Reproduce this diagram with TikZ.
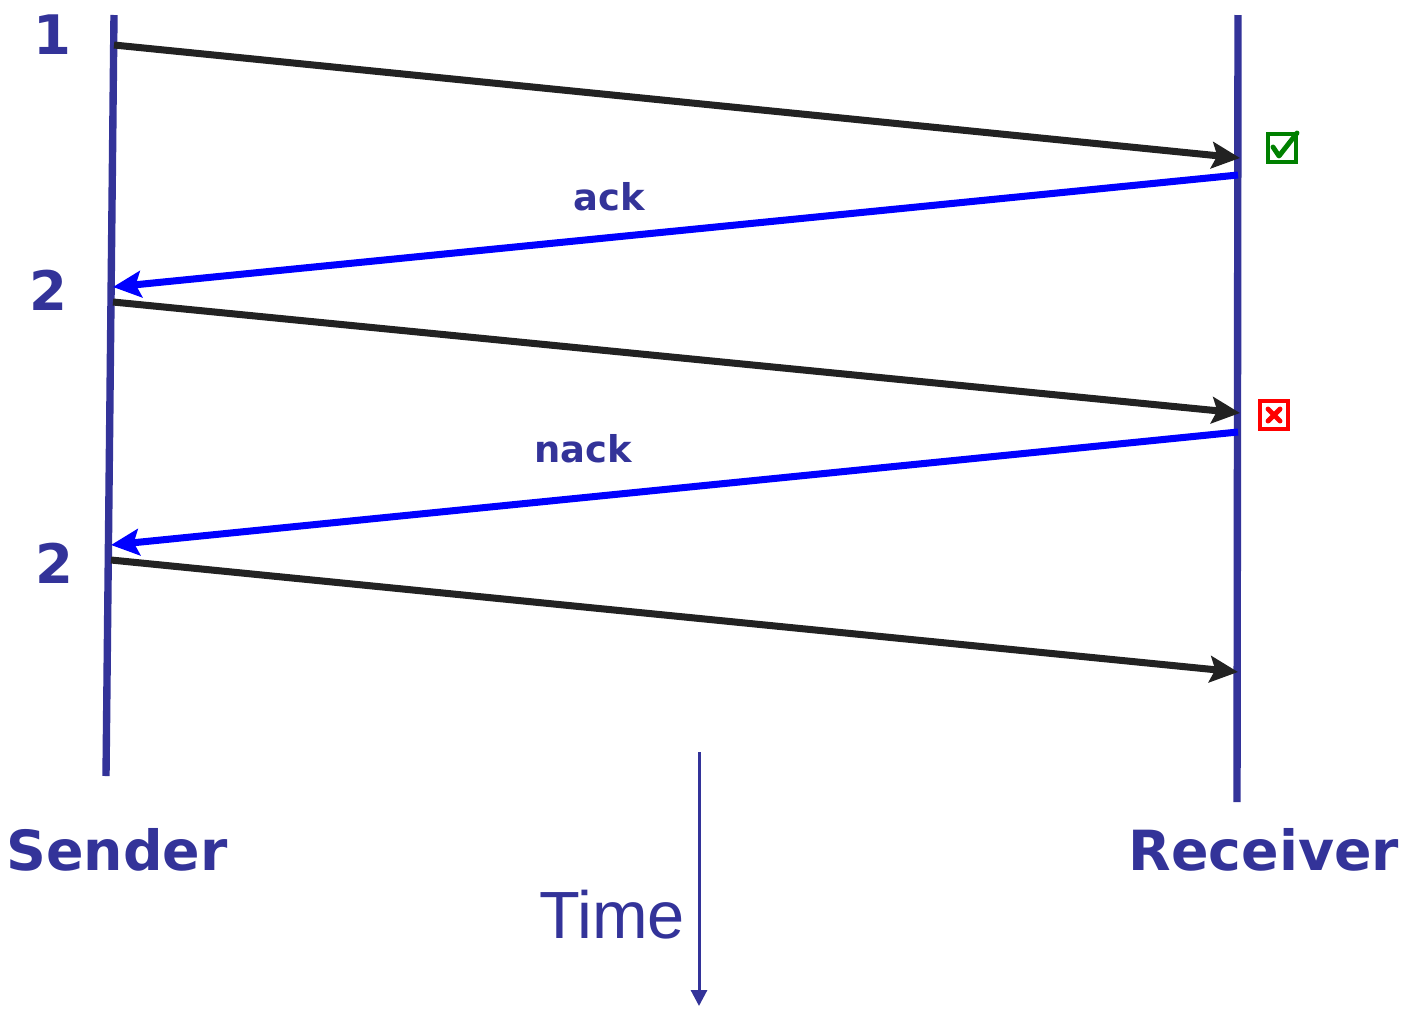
\documentclass[tikz,border=0pt]{standalone}
\usepackage{fontspec}
\setmainfont{DejaVu Sans}
\newfontfamily\timefont{Liberation Sans}
\usetikzlibrary{arrows.meta}

\definecolor{lineblue}{RGB}{51,51,153}
\definecolor{msgblack}{RGB}{34,34,34}
\definecolor{ackblue}{RGB}{0,0,255}
\definecolor{okgreen}{RGB}{0,128,0}
\definecolor{badred}{RGB}{255,0,0}

\begin{document}
\begin{tikzpicture}[
                x=0.02cm, y=-0.02cm,
                timeline/.style={draw=lineblue,line width=4.2pt},
                msg/.style={draw=msgblack,line width=4pt,-{Stealth[length=16pt,width=15pt,inset=3pt]}},
                reply/.style={msg,draw=ackblue,fill=ackblue},
                seq/.style={text=lineblue,font=\bfseries\fontsize{31}{36}\selectfont},
                side/.style={text=lineblue,font=\bfseries\fontsize{31.5}{36}\selectfont},
                msglabel/.style={text=lineblue,font=\bfseries\fontsize{21}{25}\selectfont},
                markbox/.style={draw,line width=1.9pt,minimum size=16pt,inner sep=0pt}
            ]

            \useasboundingbox (0,0) rectangle (1406,1008);

            \coordinate (stop) at (114,15);
            \coordinate (sbot) at (106,776);
            \coordinate (rtop) at (1238,15);
            \coordinate (rbot) at (1237,802);
            \draw[timeline] (stop) -- (sbot);
            \draw[timeline] (rtop) -- (rbot);

            \coordinate (s1) at (114,45);
            \coordinate (r1) at (1240,158);
            \coordinate (r2) at (1238,175);
            \coordinate (s2) at (113,287);
            \coordinate (s3) at (113,302);
            \coordinate (r3) at (1240,413);
            \coordinate (r4) at (1238,432);
            \coordinate (s4) at (111,545);
            \coordinate (s5) at (111,560);
            \coordinate (r5) at (1238,672);

            \draw[msg,fill=msgblack] (s1) -- (r1);
            \draw[reply] (r2) -- (s2);
            \draw[msg,fill=msgblack] (s3) -- (r3);
            \draw[reply] (r4) -- (s4);
            \draw[msg,fill=msgblack] (s5) -- (r5);

            \node[seq] (first) at (52,35) {1};
            \node[seq] (second) at (48,290) {2};
            \node[seq] (resend) at (54,563) {2};

            \node[msglabel] (ack) at (609,197) {ack};
            \node[msglabel] (nack) at (583,449) {nack};

            \node[side] (sender) at (117,850) {Sender};
            \node[side] (receiver) at (1264,850) {Receiver};

            \node[markbox,draw=okgreen] (ok) at (1282,148) {};
            \draw[okgreen,line width=2.8pt,line cap=round,line join=round]
                ([shift={(-9,-1)}]ok.center) -- ([shift={(-3,8)}]ok.center) -- ([shift={(15,-15)}]ok.center);
            \node[markbox,draw=badred] (bad) at (1274,415) {};
            \draw[badred,line width=2.8pt,line cap=round]
                ([shift={(-6,-6)}]bad.center) -- ([shift={(6,6)}]bad.center)
                ([shift={(6,-6)}]bad.center) -- ([shift={(-6,6)}]bad.center);

            \coordinate (ttop) at (699,752);
            \coordinate (tbot) at (699,1006);
            \draw[draw=lineblue,line width=1.7pt,-{Triangle[length=9pt,width=9pt]},fill=lineblue] (ttop) -- (tbot);
            \node[text=lineblue,font=\timefont\fontsize{38}{42}\selectfont] (time) at (612,915) {Time};

        \end{tikzpicture}
\end{document}
